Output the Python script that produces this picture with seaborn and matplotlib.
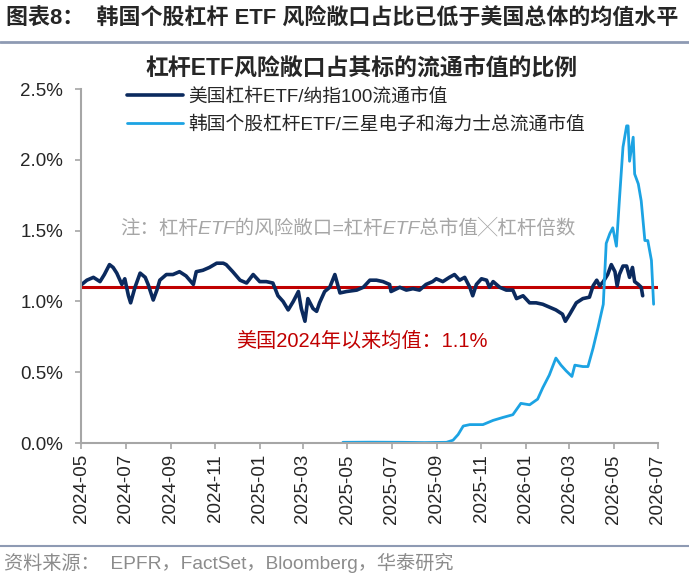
import matplotlib
matplotlib.use("Agg")
import matplotlib.pyplot as plt
import matplotlib.dates as mdates
import matplotlib.ticker as mticker
import pandas as pd
import seaborn as sns

# ---------------- data ----------------
us_dates = [
    "2024-05-02", "2024-05-09", "2024-05-18", "2024-05-27", "2024-06-02", "2024-06-09",
    "2024-06-14", "2024-06-19", "2024-06-26", "2024-06-30", "2024-07-05", "2024-07-08",
    "2024-07-14", "2024-07-21", "2024-07-28", "2024-08-01", "2024-08-08", "2024-08-13",
    "2024-08-17", "2024-08-26", "2024-09-04", "2024-09-13", "2024-09-22", "2024-10-02",
    "2024-10-06", "2024-10-15", "2024-10-24", "2024-11-03", "2024-11-12", "2024-11-16",
    "2024-11-25", "2024-12-05", "2024-12-14", "2024-12-23", "2025-01-01", "2025-01-10",
    "2025-01-19", "2025-01-26", "2025-02-02", "2025-02-09", "2025-02-16", "2025-02-23",
    "2025-02-27", "2025-03-04", "2025-03-08", "2025-03-15", "2025-03-20", "2025-03-24",
    "2025-03-31", "2025-04-07", "2025-04-14", "2025-04-21", "2025-04-30", "2025-05-14",
    "2025-05-23", "2025-06-01", "2025-06-10", "2025-06-19", "2025-06-28", "2025-06-30",
    "2025-07-12", "2025-07-21", "2025-07-30", "2025-08-08", "2025-08-17", "2025-08-26",
    "2025-08-31", "2025-09-09", "2025-09-18", "2025-09-25", "2025-10-02", "2025-10-09",
    "2025-10-16", "2025-10-20", "2025-10-25", "2025-11-01", "2025-11-08", "2025-11-12",
    "2025-11-17", "2025-11-26", "2025-12-05", "2025-12-14", "2025-12-19", "2025-12-28",
    "2026-01-06", "2026-01-15", "2026-01-24", "2026-02-02", "2026-02-11", "2026-02-20",
    "2026-02-24", "2026-03-02", "2026-03-11", "2026-03-20", "2026-03-29", "2026-04-03",
    "2026-04-08", "2026-04-12", "2026-04-17", "2026-04-23", "2026-04-28", "2026-05-03",
    "2026-05-06", "2026-05-09", "2026-05-14", "2026-05-19", "2026-05-23", "2026-05-27",
    "2026-05-30", "2026-06-04", "2026-06-08", "2026-06-10",
]
us_values = [
    1.12, 1.15, 1.17, 1.14, 1.19, 1.26, 1.24, 1.20, 1.12, 1.16, 1.04, 0.99,
    1.10, 1.20, 1.17, 1.12, 1.01, 1.08, 1.15, 1.19, 1.19, 1.21, 1.18, 1.12,
    1.21, 1.22, 1.24, 1.27, 1.27, 1.26, 1.21, 1.15, 1.13, 1.19, 1.14, 1.14,
    1.13, 1.04, 1.00, 0.94, 1.00, 1.07, 0.95, 0.86, 1.02, 0.95, 0.93, 0.99,
    1.07, 1.10, 1.19, 1.06, 1.07, 1.08, 1.10, 1.15, 1.15, 1.14, 1.12, 1.07,
    1.10, 1.08, 1.09, 1.08, 1.12, 1.14, 1.16, 1.14, 1.17, 1.19, 1.15, 1.17,
    1.10, 1.04, 1.12, 1.16, 1.15, 1.10, 1.14, 1.10, 1.08, 1.08, 1.02, 1.04,
    0.99, 0.99, 0.98, 0.96, 0.94, 0.91, 0.86, 0.91, 0.99, 1.02, 1.03, 1.11,
    1.15, 1.11, 1.14, 1.19, 1.26, 1.21, 1.11, 1.19, 1.25, 1.25, 1.17, 1.24,
    1.14, 1.12, 1.10, 1.04,
]

kr_dates = [
    "2025-04-25", "2025-06-01", "2025-07-15", "2025-08-15", "2025-09-14", "2025-09-23",
    "2025-09-30", "2025-10-07", "2025-10-16", "2025-11-03", "2025-11-17", "2025-11-30",
    "2025-12-14", "2025-12-25", "2026-01-06", "2026-01-17", "2026-01-24", "2026-02-02",
    "2026-02-11", "2026-02-18", "2026-02-25", "2026-03-05", "2026-03-09", "2026-03-20",
    "2026-03-27", "2026-04-03", "2026-04-10", "2026-04-17", "2026-04-21", "2026-04-26",
    "2026-04-30", "2026-05-05", "2026-05-09", "2026-05-14", "2026-05-19", "2026-05-21",
    "2026-05-23", "2026-05-28", "2026-05-30", "2026-06-04", "2026-06-08", "2026-06-13",
    "2026-06-17", "2026-06-22", "2026-06-25",
]
kr_values = [
    0.005, 0.006, 0.005, 0.003, 0.005, 0.02,
    0.06, 0.12, 0.13, 0.13, 0.16, 0.18,
    0.20, 0.28, 0.27, 0.31, 0.39, 0.48,
    0.60, 0.55, 0.51, 0.47, 0.55, 0.54,
    0.54, 0.67, 0.82, 0.98, 1.41, 1.48,
    1.52, 1.39, 1.71, 2.09, 2.24, 2.24,
    1.99, 2.16, 1.90, 1.83, 1.71, 1.43,
    1.43, 1.29, 0.98,
]

us_mean = 1.1
series_labels = ["美国杠杆ETF/纳指100流通市值", "韩国个股杠杆ETF/三星电子和海力士总流通市值"]
header_text = "图表8：  韩国个股杠杆 ETF 风险敞口占比已低于美国总体的均值水平"
chart_title = "杠杆ETF风险敞口占其标的流通市值的比例"
note_text = "注：杠杆ETF的风险敞口=杠杆ETF总市值╳杠杆倍数"
mean_label = "美国2024年以来均值：1.1%"
source_text = "资料来源：  EPFR，FactSet，Bloomberg，华泰研究"

# ---------------- style ----------------
sns.set_style("ticks")
plt.rcParams["font.family"] = ["Liberation Sans", "Noto Sans CJK SC", "DejaVu Sans"]
plt.rcParams["axes.unicode_minus"] = False
fam = ["Liberation Sans", "Noto Sans CJK SC", "DejaVu Sans"]

us_df = pd.DataFrame({"date": pd.to_datetime(us_dates), "value": [v / 100 for v in us_values],
                      "series": series_labels[0]})
kr_df = pd.DataFrame({"date": pd.to_datetime(kr_dates), "value": [v / 100 for v in kr_values],
                      "series": series_labels[1]})

fig = plt.figure(figsize=(6.89, 5.82), dpi=100)
ax = fig.add_axes([0.1176, 0.2388, 0.8374, 0.6082])

navy = "#0B2A5E"
lblue = "#1CA3E3"
red = "#C00000"
gray = "#A6A6A6"

sns.lineplot(data=us_df, x="date", y="value", color=navy, lw=2.6, ax=ax, label=series_labels[0])
sns.lineplot(data=kr_df, x="date", y="value", color=lblue, lw=2.0, ax=ax, label=series_labels[1])
ax.axhline(us_mean / 100, color=red, lw=2.2, zorder=1)

ax.set_xlim(pd.Timestamp("2024-05-01"), pd.Timestamp("2026-07-01"))
ax.set_ylim(0, 0.025)
ax.yaxis.set_major_locator(mticker.MultipleLocator(0.005))
ax.yaxis.set_major_formatter(mticker.FuncFormatter(lambda v, p: f"{v*100:.1f}%"))
ax.xaxis.set_major_locator(mdates.MonthLocator(bymonth=[1, 3, 5, 7, 9, 11]))
ax.xaxis.set_major_formatter(mdates.DateFormatter("%Y-%m"))
ax.set_xlabel("")
ax.set_ylabel("")
for lab in ax.get_xticklabels():
    lab.set_rotation(90)
ax.tick_params(axis="both", labelsize=13.5, color=gray, length=4, width=1.2, direction="out")
ax.tick_params(axis="x", pad=4)
ax.tick_params(axis="y", pad=9)
for s in ["top", "right"]:
    ax.spines[s].set_visible(False)
for s in ["left", "bottom"]:
    ax.spines[s].set_color(gray)
    ax.spines[s].set_linewidth(1.5)

leg = ax.legend(loc="upper left", bbox_to_anchor=(0.05, 1.05), frameon=False,
                prop={"size": 13.5}, handlelength=3.0, handletextpad=0.3, labelspacing=0.55)
for t in leg.get_texts():
    t.set_fontfamily(fam)

ax.text(pd.Timestamp("2025-05-02"), 0.0152, note_text, color="#A6A6A6", fontsize=14,
        style="italic", ha="center", va="center", family=fam)
ax.text(pd.Timestamp("2025-05-21"), 0.0072, mean_label, color=red, fontsize=14.5,
        ha="center", va="center", family=fam)

fig.text(361 / 689, 1 - 68 / 582, chart_title, ha="center", va="center", fontsize=16.5,
         fontweight="bold", family=fam)
fig.text(6 / 689, 1 - 18 / 582, header_text, ha="left", va="center", fontsize=15.8,
         fontweight="bold", family=fam)
fig.add_artist(plt.Line2D([0.0, 1.0], [1 - 42 / 582, 1 - 42 / 582], color="#8E9AB3", lw=2,
                          transform=fig.transFigure))
fig.add_artist(plt.Line2D([0.0, 1.0], [1 - 546 / 582, 1 - 546 / 582], color="#8E9AB3", lw=1.5,
                          transform=fig.transFigure))
fig.text(4 / 689, 1 - 563 / 582, source_text, ha="left", va="center", fontsize=13.8,
         color="#8C8C8C", family=fam)

fig.savefig("out.png", dpi=100)
